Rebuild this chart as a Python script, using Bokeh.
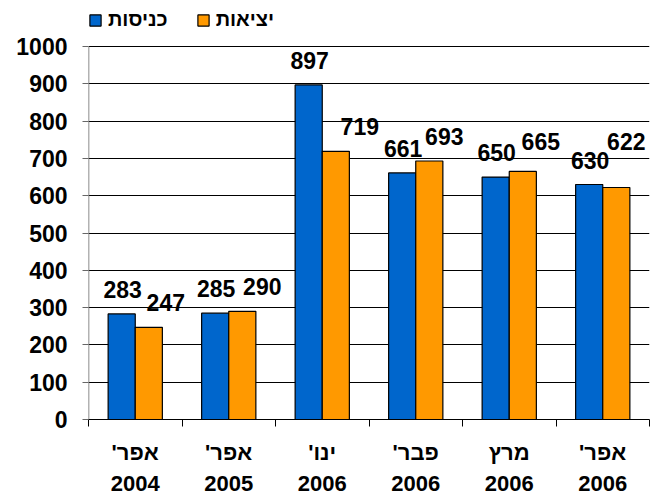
from bokeh.plotting import figure
from bokeh.models import (Range1d, FixedTicker, ColumnDataSource,
                          LabelSet, Legend, LegendItem)
from bokeh.core.properties import value
from bokeh.embed import file_html
from bokeh.resources import INLINE

# ---- data ----
months = ["'אפר", "'אפר", "'ינו", "'פבר", "מרץ", "'אפר"]
years = ["2004", "2005", "2006", "2006", "2006", "2006"]
entries = [283, 285, 897, 661, 650, 630]   # כניסות
exits = [247, 290, 719, 693, 665, 622]     # יציאות
series_names = ["כניסות", "יציאות"]
y_ticks = [0, 100, 200, 300, 400, 500, 600, 700, 800, 900, 1000]

# ---- style / layout ----
BLUE = "#0066CC"
ORANGE = "#FF9900"
FONT = "Liberation Sans"
BAR_W = 0.29
exit_label_dx = [17, 20, 24, 15, 18, 10]
exit_label_dy = [0, 0, 0, 0, 5, 21]
H, BOTTOM = 500, 81
AXIS_TOP_PX = 46            # pixel row of the 1000 gridline
Y_MAX = y_ticks[-1]
frame_h = H - BOTTOM
y_end = Y_MAX * frame_h / (frame_h - AXIS_TOP_PX)   # room above the plot for the legend

n = len(months)
centers = [i + 0.5 for i in range(n)]
bounds = list(range(n + 1))

p = figure(width=653, height=H, output_backend="svg", toolbar_location=None,
           x_range=Range1d(0, n), y_range=Range1d(0, y_end),
           min_border_left=88, min_border_right=4, min_border_top=0, min_border_bottom=BOTTOM)
p.outline_line_color = None
p.background_fill_color = "white"

src = ColumnDataSource(dict(
    xb=[c - BAR_W / 2 for c in centers], xo=[c + BAR_W / 2 for c in centers],
    entries=entries, exits=exits,
    lb=[str(v) for v in entries], lo=[str(v) for v in exits],
    dx=exit_label_dx, dy=[16 + d for d in exit_label_dy],
))

rb = p.vbar(x="xb", top="entries", width=BAR_W, source=src, fill_color=BLUE,
            line_color="black", line_width=1.2)
ro = p.vbar(x="xo", top="exits", width=BAR_W, source=src, fill_color=ORANGE,
            line_color="black", line_width=1.2)

# y axis line only up to the top tick
p.segment(x0=[0], y0=[y_ticks[0]], x1=[0], y1=[Y_MAX], line_color="#666666", line_width=1.5)

# axes
yax = p.yaxis[0]
yax.ticker = FixedTicker(ticks=y_ticks, minor_ticks=[])
yax.major_label_text_font = FONT
yax.major_label_text_font_style = "bold"
yax.major_label_text_font_size = "23px"
yax.major_label_text_color = "black"
yax.major_tick_out = 6
yax.major_tick_in = 0
yax.major_label_standoff = 15
yax.axis_line_color = None
yax.major_tick_line_color = "#666666"

xax = p.xaxis[0]
xax.ticker = FixedTicker(ticks=centers, minor_ticks=bounds)
xax.major_label_overrides = {c: m + "\n" + y for c, m, y in zip(centers, months, years)}
xax.major_tick_out = 0
xax.major_tick_in = 0
xax.minor_tick_out = 7
xax.minor_tick_in = 0
xax.minor_tick_line_color = "black"
xax.axis_line_color = "black"
xax.major_label_standoff = 13
xax.major_label_text_font = FONT
xax.major_label_text_font_style = "bold"
xax.major_label_text_font_size = "22px"
xax.major_label_text_color = "black"
xax.major_label_text_line_height = 1.25

p.xgrid.grid_line_color = None
p.ygrid.grid_line_color = "black"
p.ygrid.grid_line_width = 1

# value labels
p.add_layout(LabelSet(x="xb", y="entries", text="lb", source=src, x_offset=1, y_offset=16,
                      text_align="center", text_baseline="alphabetic",
                      text_font=value(FONT), text_font_style="bold", text_font_size="23px",
                      text_color="black"))
p.add_layout(LabelSet(x="xo", y="exits", text="lo", source=src, x_offset="dx", y_offset="dy",
                      text_align="center", text_baseline="alphabetic",
                      text_font=value(FONT), text_font_style="bold", text_font_size="23px",
                      text_color="black"))

legend = Legend(items=[LegendItem(label=series_names[0], renderers=[rb]),
                       LegendItem(label=series_names[1], renderers=[ro])],
                location=(0, 388), orientation="horizontal",
                background_fill_alpha=0, border_line_color=None, padding=0, margin=0,
                spacing=28, label_standoff=6, glyph_width=14, glyph_height=14,
                label_text_font=FONT, label_text_font_style="bold",
                label_text_font_size="20px", label_text_color="black")
p.add_layout(legend, "center")

open("out.html", "w").write(file_html(p, INLINE))
